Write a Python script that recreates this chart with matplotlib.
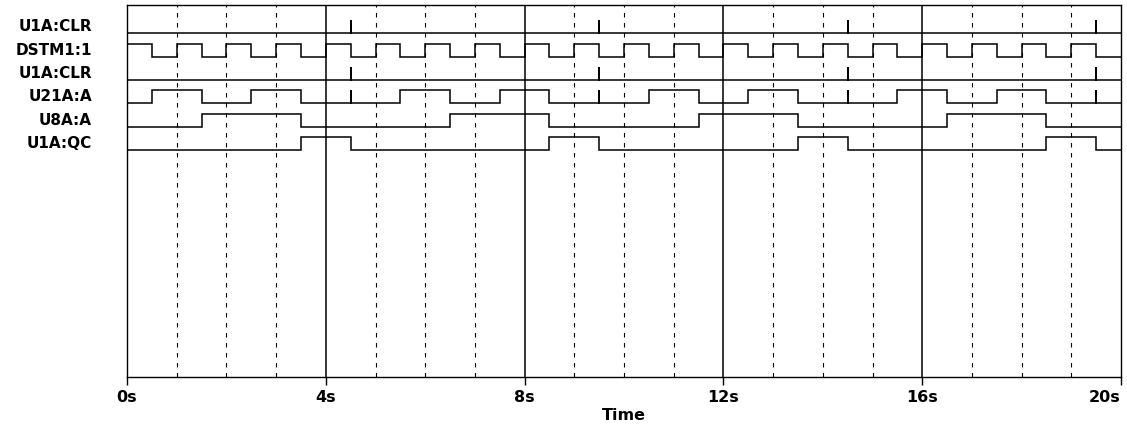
import numpy as np
import matplotlib.pyplot as plt
from matplotlib.transforms import blended_transform_factory

# digital trace data (times in seconds)
signal_names = ['U1A:CLR', 'DSTM1:1', 'U1A:CLR', 'U21A:A', 'U8A:A', 'U1A:QC']
start_levels = [0, 1, 0, 0, 0, 0]

clr_edges = [4.5, 4.5, 9.5, 9.5, 14.5, 14.5, 19.5, 19.5]
dstm_edges = [0.5, 1.0, 1.5, 2.0, 2.5, 3.0, 3.5, 4.0, 4.5, 5.0,
              5.5, 6.0, 6.5, 7.0, 7.5, 8.0, 8.5, 9.0, 9.5, 10.0,
              10.5, 11.0, 11.5, 12.0, 12.5, 13.0, 13.5, 14.0, 14.5, 15.0,
              15.5, 16.0, 16.5, 17.0, 17.5, 18.0, 18.5, 19.0, 19.5]
u21a_edges = [0.5, 1.5, 2.5, 3.5, 4.5, 4.5, 5.5, 6.5, 7.5, 8.5, 9.5, 9.5,
              10.5, 11.5, 12.5, 13.5, 14.5, 14.5, 15.5, 16.5, 17.5, 18.5,
              19.5, 19.5]
u8a_edges = [1.5, 3.5, 6.5, 8.5, 11.5, 13.5, 16.5, 18.5]
qc_edges = [3.5, 4.5, 8.5, 9.5, 13.5, 14.5, 18.5, 19.5]

all_edges = [clr_edges, dstm_edges, clr_edges, u21a_edges, u8a_edges, qc_edges]

tick_times = [0, 4, 8, 12, 16, 20]
tick_labels = ['0s', '4s', '8s', '12s', '16s', '20s']
t_end = 20


def trace(level0, edges, tend):
    xs = [0]
    ys = [level0]
    lvl = level0
    for e in edges:
        xs.append(e)
        ys.append(lvl)
        lvl = 1 - lvl
        xs.append(e)
        ys.append(lvl)
    xs.append(tend)
    ys.append(lvl)
    return np.array(xs), np.array(ys)


W, H = 1127, 429
fig = plt.figure(figsize=(W / 100, H / 100), dpi=100)
ax = fig.add_axes([127 / W, (H - 377.3) / H, 994 / W, 372.3 / H])

y_top, y_bot = 5, 377.3
ax.set_xlim(0, t_end)
ax.set_ylim(y_bot, y_top)

# grid: solid every 4 s, dashed every 1 s
for t in range(1, t_end):
    if t % 4 == 0:
        ax.axvline(t, color='black', lw=1.1)
    else:
        ax.axvline(t, color='black', lw=0.8, linestyle=(0, (4, 5)))

row0, row_step, amp = 33.3, 23.33, 13
label_tf = blended_transform_factory(fig.transFigure, ax.transData)
for i, name in enumerate(signal_names):
    low = row0 + row_step * i
    xs, ys = trace(start_levels[i], all_edges[i], t_end)
    ax.plot(xs, low - ys * amp, color='black', lw=1.1, solid_joinstyle='miter')
    ax.text(92 / W, low - 6.5, name, transform=label_tf, ha='right', va='center',
            fontsize=11, fontweight='bold', family='DejaVu Sans')

for s in ax.spines.values():
    s.set_linewidth(1.0)
    s.set_color('black')

ax.set_yticks([])
ax.set_xticks(tick_times)
ax.set_xticklabels(tick_labels, fontsize=11.5, fontweight='bold', family='DejaVu Sans')
ax.tick_params(axis='x', direction='out', length=5.8, width=1.0, pad=3.5)
ax.get_xticklabels()[-1].set_ha('right')
ax.get_xticklabels()[-1].set_x(t_end)

fig.text(624 / W, 1 - 415 / H, 'Time', ha='center', va='center',
         fontsize=11.5, fontweight='bold', family='DejaVu Sans')

fig.savefig('out.png', dpi=100)
